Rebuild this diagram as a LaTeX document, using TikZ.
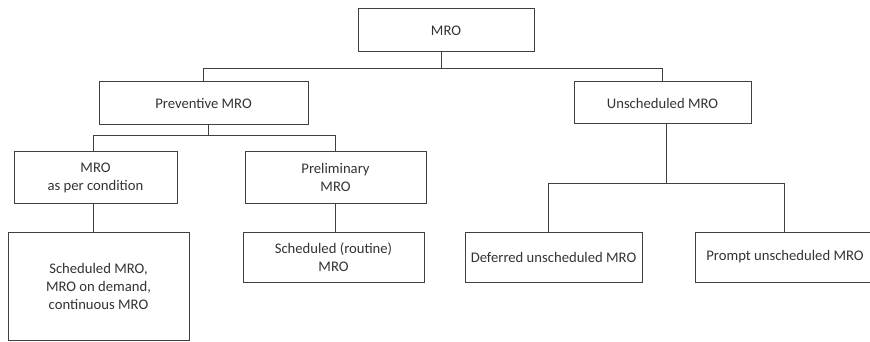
\documentclass[tikz,border=0pt]{standalone}
\usepackage{fontspec}
\setmainfont{Carlito}
\begin{document}
\begin{tikzpicture}[x=0.75pt,y=-0.75pt,
  box/.style={draw=black!75, line width=0.75pt, rectangle, align=center, text=black!80,
    font=\fontsize{11}{13.5}\selectfont, inner sep=0pt},
  conn/.style={draw=black!75, line width=0.75pt}]
\useasboundingbox (0,0) rectangle (870,342);
\begin{scope}
\clip (0,0) rectangle (870,342);
\node[box, minimum width=176*0.75pt, minimum height=43*0.75pt] (mro) at (446,30.5) {MRO};
\node[box, minimum width=209*0.75pt, minimum height=43*0.75pt] (prev) at (203.5,103.5) {Preventive MRO};
\node[box, minimum width=177*0.75pt, minimum height=42*0.75pt] (unsch) at (662.5,103) {Unscheduled MRO};
\node[box, minimum width=163*0.75pt, minimum height=51*0.75pt] (cond) at (95.5,177.5) {MRO\\as per condition};
\node[box, minimum width=181*0.75pt, minimum height=51*0.75pt] (prelim) at (335.5,177.5) {Preliminary\\MRO};
\node[box, minimum width=181*0.75pt, minimum height=108*0.75pt] (sched) at (98.5,286) {Scheduled MRO,\\MRO on demand,\\continuous MRO};
\node[box, minimum width=181*0.75pt, minimum height=50*0.75pt] (routine) at (333.5,257) {Scheduled (routine)\\MRO};
\node[box, minimum width=177*0.75pt, minimum height=50*0.75pt] (defer) at (553.5,257) {Deferred unscheduled MRO};
\node[box, minimum width=180*0.75pt, minimum height=50*0.75pt] (prompt) at (785,257) {Prompt unscheduled MRO};

\coordinate (b1) at (441,69);
\coordinate (b2) at (208,136);
\coordinate (b3) at (666,183);
\coordinate (c1) at (93,0);

\draw[conn] (mro.south -| b1) -- (b1);
\draw[conn] (prev.north) -- (prev.north |- b1) -- (unsch.north |- b1) -- (unsch.north);
\draw[conn] (prev.south -| b2) -- (b2);
\draw[conn] (cond.north -| c1) -- (c1 |- b2) -- (prelim.north |- b2) -- (prelim.north);
\draw[conn] (cond.south -| c1) -- (sched.north -| c1);
\draw[conn] (prelim.south) -- (routine.north -| prelim.south);
\draw[conn] (unsch.south -| b3) -- (b3);
\draw[conn] ([xshift=-5.5*0.75pt]defer.north) -- ([xshift=-5.5*0.75pt]defer.north |- b3) -- ([xshift=-1*0.75pt]prompt.north |- b3) -- ([xshift=-1*0.75pt]prompt.north);
\end{scope}
\end{tikzpicture}
\end{document}
